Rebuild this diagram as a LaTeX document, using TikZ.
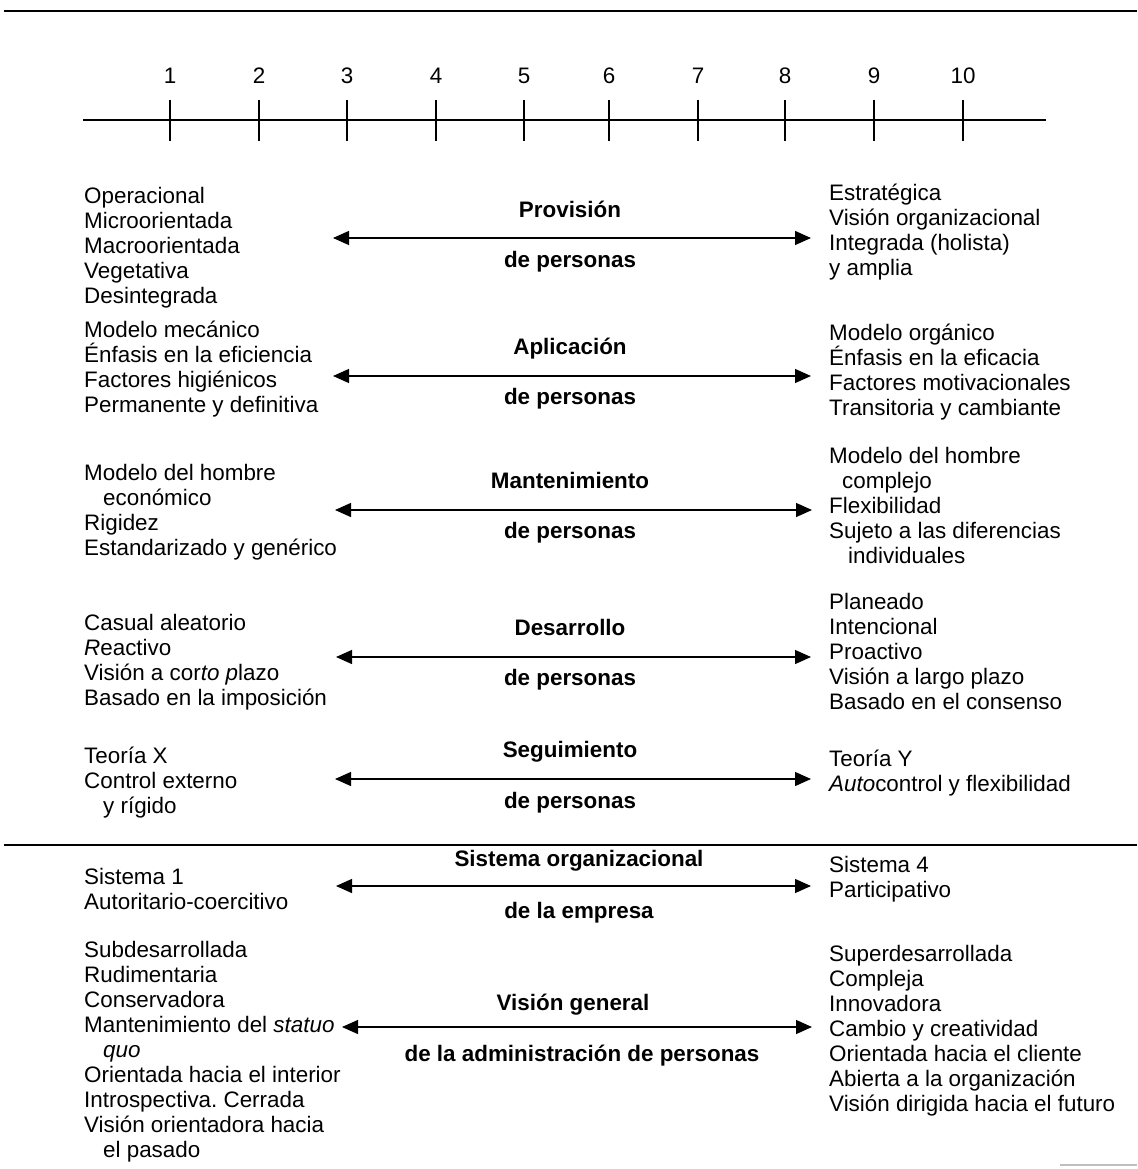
\documentclass[tikz,border=0pt]{standalone}
\usepackage{fontspec}
\setmainfont{Liberation Sans}
\usetikzlibrary{arrows.meta}
\frenchspacing
\newcommand\bodyfont{\fontsize{22.4}{25}\selectfont}
\newcommand\firststrut{\rule{0pt}{21pt}}
\newcommand\indentx{\hspace*{19pt}}
\begin{document}
\begin{tikzpicture}[x=1pt,y=-1pt,
  txt/.style={anchor=north west, inner sep=0pt, align=left, font=\bodyfont},
  ttl/.style={anchor=base, inner sep=0pt, font=\bodyfont\bfseries},
  num/.style={anchor=base, inner sep=0pt, font=\bodyfont},
  dbl/.style={{Triangle[length=16pt,width=14pt]}-{Triangle[length=16pt,width=14pt]}, line width=1.3pt},
  hrule/.style={line width=2.2pt},
  scaletick/.style={line width=1.1pt}]
\useasboundingbox (0,0) rectangle (1137,1169);
\fill[white] (0,0) rectangle (1137,1169);

% top rule and separator
\draw[hrule] (4,11) -- (1137,11);
\draw[hrule] (4,845) -- (1137,845);
\draw[gray!50, line width=1.2pt] (1060,1165) -- (1137,1165);

% scale
\draw[line width=1.3pt] (83,120) -- (1046,120);
\foreach \i/\x in {1/170,2/259,3/347,4/436,5/524,6/609,7/698,8/785,9/874,10/963}{
  \draw[scaletick] (\x,100) -- (\x,141);
  \node[num] (n\i) at (\x,84) {\i};
}

% Block 1
\node[txt] (l1) at (84,182) {\firststrut Operacional\\Microorientada\\Macroorientada\\Vegetativa\\Desintegrada};
\node[txt] (r1) at (829,179) {\firststrut Estratégica\\Visión organizacional\\Integrada (holista)\\y amplia};
\node[ttl] (t1a) at (570,217) {Provisión};
\node[ttl] (t1b) at (570,267) {de personas};
\coordinate (a1l) at (333,238); \coordinate (a1r) at (811,238);
\draw[dbl] (a1l) -- (a1r);

% Block 2
\node[txt] (l2) at (84,316) {\firststrut Modelo mecánico\\Énfasis en la eficiencia\\Factores higiénicos\\Permanente y definitiva};
\node[txt] (r2) at (829,319) {\firststrut Modelo orgánico\\Énfasis en la eficacia\\Factores motivacionales\\Transitoria y cambiante};
\node[ttl] (t2a) at (570,354) {Aplicación};
\node[ttl] (t2b) at (570,404) {de personas};
\coordinate (a2l) at (333,376); \coordinate (a2r) at (811,376);
\draw[dbl] (a2l) -- (a2r);

% Block 3
\node[txt] (l3) at (84,459) {\firststrut Modelo del hombre\\\indentx económico\\Rigidez\\Estandarizado y genérico};
\node[txt] (r3) at (829,442) {\firststrut Modelo del hombre\\\hspace*{13pt}complejo\\Flexibilidad\\Sujeto a las diferencias\\\hspace*{19pt}individuales};
\node[ttl] (t3a) at (570,488) {Mantenimiento};
\node[ttl] (t3b) at (570,538) {de personas};
\coordinate (a3l) at (335,510); \coordinate (a3r) at (812,510);
\draw[dbl] (a3l) -- (a3r);

% Block 4
\node[txt] (l4) at (84,609) {\firststrut Casual aleatorio\\\textit{R}eactivo\\Visión a cor\textit{to} \textit{p}lazo\\Basado en la imposición};
\node[txt] (r4) at (829,588) {\firststrut Planeado\\Intencional\\Proactivo\\Visión a largo plazo\\Basado en el consenso};
\node[ttl] (t4a) at (570,635) {Desarrollo};
\node[ttl] (t4b) at (570,685) {de personas};
\coordinate (a4l) at (336,657); \coordinate (a4r) at (811,657);
\draw[dbl] (a4l) -- (a4r);

% Block 5
\node[txt] (l5) at (84,742) {\firststrut Teoría X\\Control externo\\\indentx y rígido};
\node[txt] (r5) at (829,745) {\firststrut Teoría Y\\\textit{Auto}control y flexibilidad};
\node[ttl] (t5a) at (570,757) {Seguimiento};
\node[ttl] (t5b) at (570,808) {de personas};
\coordinate (a5l) at (335,779); \coordinate (a5r) at (811,779);
\draw[dbl] (a5l) -- (a5r);

% Block 6
\node[txt] (l6) at (84,863) {\firststrut Sistema 1\\Autoritario-coercitivo};
\node[txt] (r6) at (829,851) {\firststrut Sistema 4\\Participativo};
\node[ttl] (t6a) at (579,866) {Sistema organizacional};
\node[ttl] (t6b) at (579,918) {de la empresa};
\coordinate (a6l) at (336,886); \coordinate (a6r) at (811,886);
\draw[dbl] (a6l) -- (a6r);

% Block 7
\node[txt] (l7) at (84,936) {\firststrut Subdesarrollada\\Rudimentaria\\Conservadora\\Mantenimiento del \textit{statuo}\\\indentx\textit{quo}\\Orientada hacia el interior\\Introspectiva. Cerrada\\Visión orientadora hacia\\\indentx el pasado};
\node[txt] (r7) at (829,940) {\firststrut Superdesarrollada\\Compleja\\Innovadora\\Cambio y creatividad\\Orientada hacia el cliente\\Abierta a la organización\\Visión dirigida hacia el futuro};
\node[ttl] (t7a) at (573,1010) {Visión general};
\node[ttl] (t7b) at (582,1061) {de la administración de personas};
\coordinate (a7l) at (342,1027); \coordinate (a7r) at (812,1027);
\draw[dbl] (a7l) -- (a7r);
\end{tikzpicture}
\end{document}
